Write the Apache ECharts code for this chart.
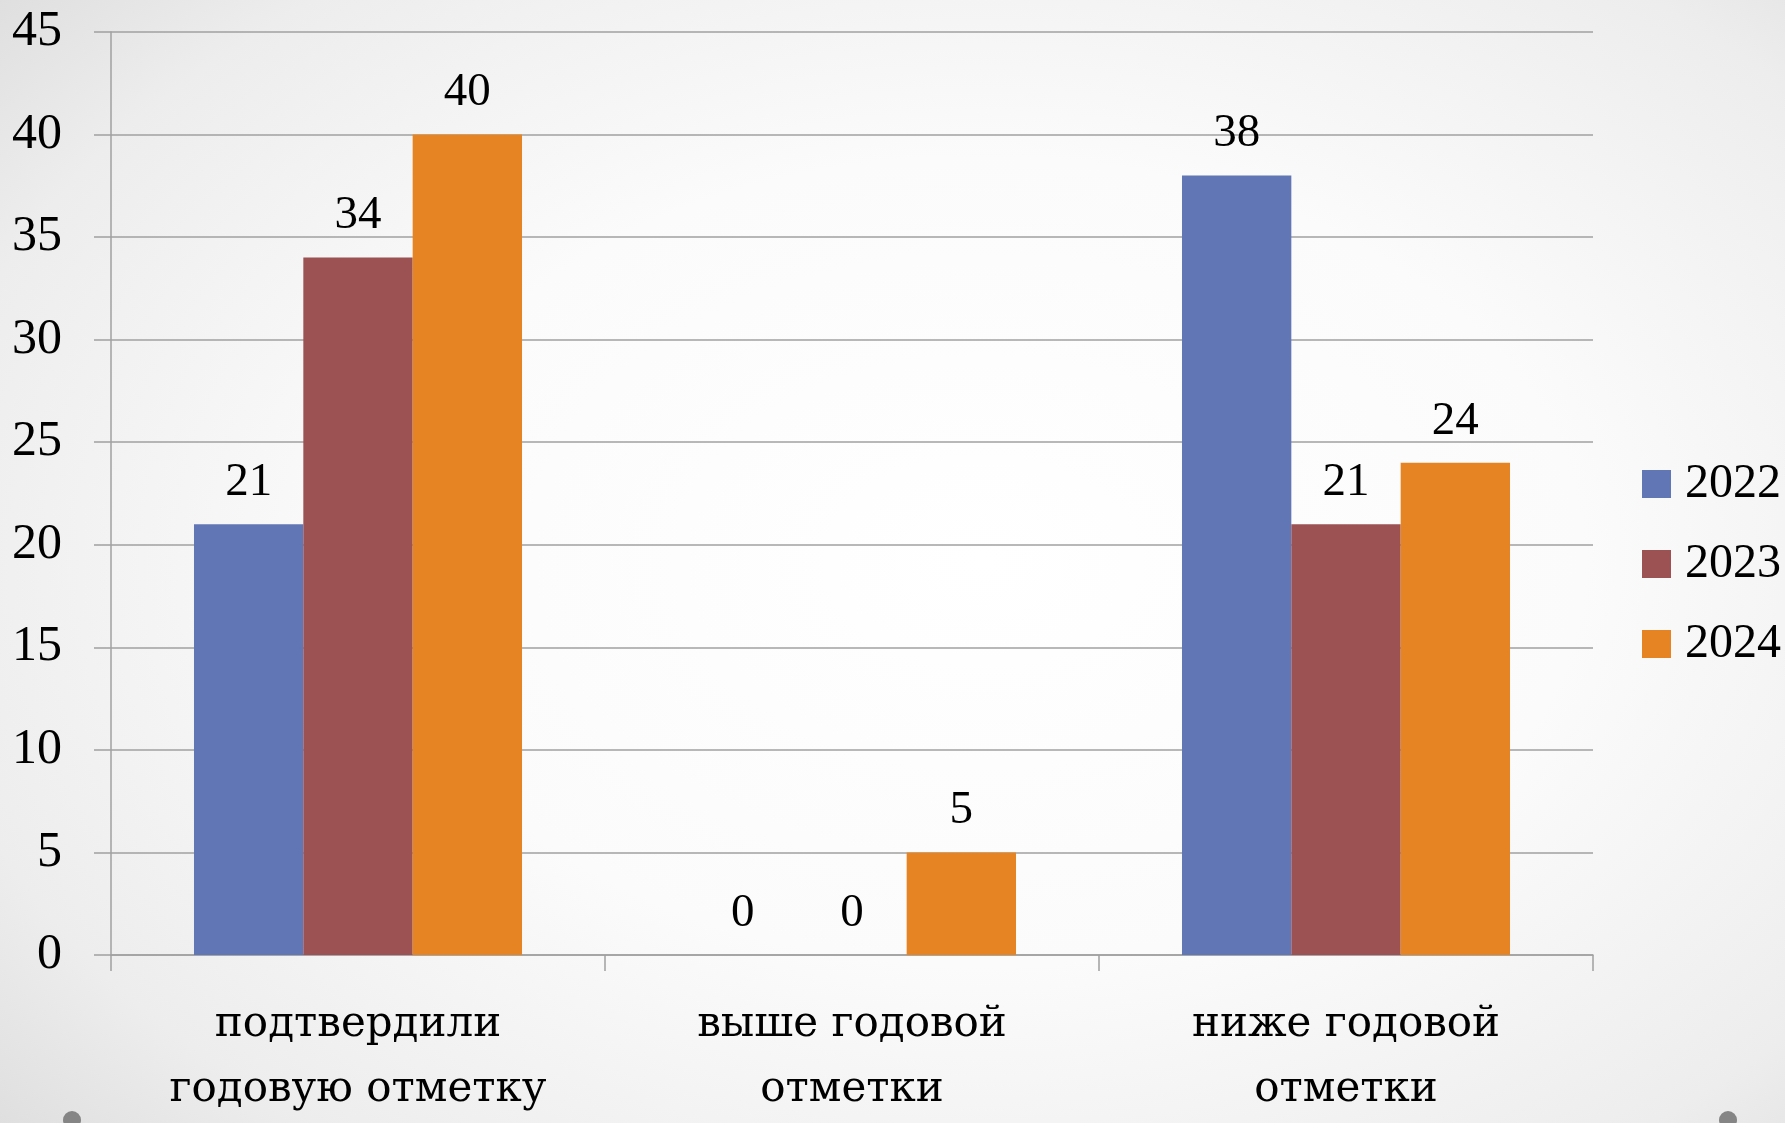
<!DOCTYPE html>
<html>
<head>
<meta charset="utf-8">
<script src="https://cdn.jsdelivr.net/npm/echarts@6/dist/echarts.min.js"></script>
<style>
html,body{margin:0;padding:0;}
#chart{width:1785px;height:1123px;background:radial-gradient(ellipse 75% 80% at 55% 50%, #ffffff 0%, #fbfbfb 45%, #ededed 80%, #dcdcdc 100%);}
</style>
</head>
<body>
<div id="chart"></div>
<script>
const categories = ['подтвердили\nгодовую отметку', 'выше годовой\nотметки', 'ниже годовой\nотметки'];
const seriesNames = ['2022', '2023', '2024'];
const values2022 = [21, 0, 38];
const values2023 = [34, 0, 21];
const values2024 = [40, 5, 24];
const colors = ['#6176B4', '#9C5152', '#E68423'];

const chart = echarts.init(document.getElementById('chart'), null, {renderer: 'canvas'});
const numFont = 'Liberation Serif';
const catFont = 'DejaVu Serif';
function mk(name, data, color) {
  return {
    name: name, type: 'bar', data: data, barGap: '0%', barCategoryGap: '33.6%',
    itemStyle: {color: color},
    label: {show: true, position: 'top', distance: 18, color: '#000', fontFamily: numFont, fontSize: 47},
    animation: false
  };
}
chart.setOption({
  animation: false,
  backgroundColor: 'transparent',
  grid: {left: 111, right: 192, top: 32, bottom: 160, containLabel: false},
  legend: {
    orient: 'vertical', left: 1637, top: 455, padding: 5, itemWidth: 29, itemHeight: 28, itemGap: 32,
    icon: 'rect',
    textStyle: {fontFamily: numFont, fontSize: 48, color: '#000', padding: [0, 0, 0, 9]},
    data: seriesNames
  },
  xAxis: {
    type: 'category', data: categories,
    axisLine: {lineStyle: {color: '#a0a0a0', width: 1.5}},
    axisTick: {show: true, length: 16, lineStyle: {color: '#a0a0a0', width: 1.5}},
    axisLabel: {fontFamily: catFont, fontSize: 42, color: '#000', lineHeight: 65, margin: 38, interval: 0}
  },
  yAxis: {
    type: 'value', min: 0, max: 45, interval: 5,
    axisLine: {show: true, lineStyle: {color: '#a0a0a0', width: 1.5}},
    axisTick: {show: true, length: 17, lineStyle: {color: '#a0a0a0', width: 1.5}},
    splitLine: {lineStyle: {color: '#a0a0a0', width: 1.5}},
    axisLabel: {fontFamily: numFont, fontSize: 50, color: '#000', margin: 49}
  },
  graphic: [
    {type: 'circle', shape: {cx: 72, cy: 1120, r: 9}, style: {fill: '#858585'}},
    {type: 'circle', shape: {cx: 1728, cy: 1120, r: 9}, style: {fill: '#858585'}}
  ],
  series: [
    mk(seriesNames[0], values2022, colors[0]),
    mk(seriesNames[1], values2023, colors[1]),
    mk(seriesNames[2], values2024, colors[2])
  ]
});
</script>
</body>
</html>
